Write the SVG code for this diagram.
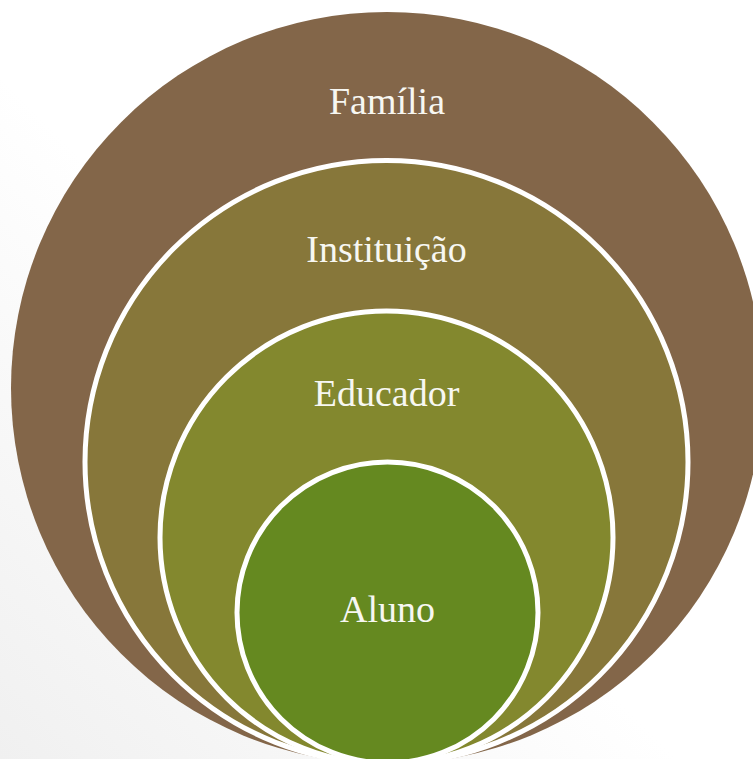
<svg xmlns="http://www.w3.org/2000/svg" width="753" height="759" viewBox="0 0 753 759">
<defs>
<linearGradient id="bg" x1="1" y1="0" x2="0" y2="1">
<stop offset="0" stop-color="#ffffff"/>
<stop offset="0.55" stop-color="#ffffff"/>
<stop offset="1" stop-color="#f0f0f0"/>
</linearGradient>
</defs>
<style>
.ring{stroke:#ffffff;stroke-width:5}
.lbl{font-family:"Liberation Serif","Times New Roman",serif;font-size:38px;fill:#f7f7f2;text-anchor:middle}
</style>
<rect width="753" height="759" fill="url(#bg)"/>
<g id="familia">
<circle cx="387" cy="388" r="376" fill="#836649"/>
<text class="lbl" x="387" y="114">Família</text>
</g>
<g id="instituicao">
<circle class="ring" cx="386.5" cy="462" r="301.5" fill="#87773A"/>
<text class="lbl" x="386.5" y="262">Instituição</text>
</g>
<g id="educador">
<circle class="ring" cx="386.5" cy="537.5" r="226.5" fill="#83882E"/>
<text class="lbl" x="386.5" y="406">Educador</text>
</g>
<g id="aluno">
<circle class="ring" cx="387.5" cy="612.5" r="150.5" fill="#658920"/>
<text class="lbl" x="387.5" y="622">Aluno</text>
</g>
<g id="connectors"/>
</svg>
